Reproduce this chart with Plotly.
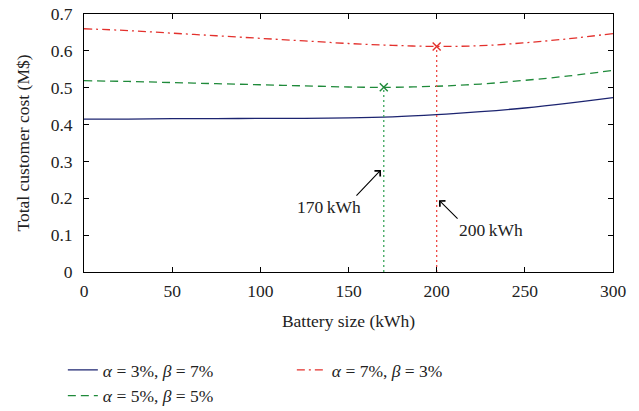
import plotly.graph_objects as go

x_blue = [0, 25, 50, 75, 100, 125, 150, 175, 200, 225, 250, 275, 300]
y_blue = [0.415, 0.415, 0.416, 0.416, 0.417, 0.417, 0.418, 0.421, 0.427, 0.435, 0.445, 0.458, 0.473]

x_green = [0, 25, 50, 75, 100, 125, 150, 170, 200, 225, 250, 275, 300]
y_green = [0.519, 0.517, 0.514, 0.511, 0.508, 0.505, 0.502, 0.501, 0.504, 0.510, 0.520, 0.532, 0.547]

x_red = [0, 25, 50, 75, 100, 125, 150, 175, 200, 225, 250, 275, 300]
y_red = [0.660, 0.655, 0.648, 0.641, 0.634, 0.627, 0.620, 0.615, 0.612, 0.614, 0.622, 0.633, 0.647]

opt_x = [170, 200]
opt_y = [0.501, 0.612]
opt_labels = ["170\u2009kWh", "200\u2009kWh"]

BLUE = "#1c2470"
GREEN = "#1f8a3a"
RED = "#e3312d"
GREEN_DOT = "#3aa55a"
RED_DOT = "#ee4a46"
FONT = "Liberation Serif"
FS = 17.5
TXT = "#222"

fig = go.Figure()
fig.add_trace(go.Scatter(x=x_blue, y=y_blue, mode="lines", line=dict(color=BLUE, width=1.3, shape="spline"),
                         name="<i>α</i> = 3%, <i>β</i> = 7%"))
fig.add_trace(go.Scatter(x=x_red, y=y_red, mode="lines", line=dict(color=RED, width=1.3, dash="8px,4px,2px,4px", shape="spline"),
                         name="<i>α</i> = 7%, <i>β</i> = 3%"))
fig.add_trace(go.Scatter(x=x_green, y=y_green, mode="lines", line=dict(color=GREEN, width=1.3, dash="8px,5px", shape="spline"),
                         name="<i>α</i> = 5%, <i>β</i> = 5%"))

# vertical dotted lines and optimum markers
for xv, yv, c, cd in [(opt_x[0], opt_y[0], GREEN, GREEN_DOT), (opt_x[1], opt_y[1], RED, RED_DOT)]:
    fig.add_trace(go.Scatter(x=[xv, xv], y=[0, yv], mode="lines", line=dict(color=cd, width=1.3, dash="2px,3px"),
                             showlegend=False, hoverinfo="skip"))
    fig.add_trace(go.Scatter(x=[xv], y=[yv], mode="markers",
                             marker=dict(symbol="x-thin-open", size=8, color=c, line=dict(color=c, width=1.4)),
                             showlegend=False))

# 170 kWh arrow + label
fig.add_annotation(x=168.4, y=0.277, ax=153.7, ay=0.203, xref="x", yref="y", axref="x", ayref="y",
                   text="", showarrow=True, arrowhead=4, arrowsize=1.4, arrowwidth=1.1, arrowcolor="black")
fig.add_annotation(x=158.5, y=0.176, xref="x", yref="y", text=opt_labels[0], showarrow=False,
                   xanchor="right", yanchor="middle", font=dict(family=FONT, size=FS, color=TXT))
# 200 kWh arrow + label
fig.add_annotation(x=201.3, y=0.195, ax=212.7, ay=0.141, xref="x", yref="y", axref="x", ayref="y",
                   text="", showarrow=True, arrowhead=4, arrowsize=1.4, arrowwidth=1.1, arrowcolor="black")
fig.add_annotation(x=211.8, y=0.114, xref="x", yref="y", text=opt_labels[1], showarrow=False,
                   xanchor="left", yanchor="middle", font=dict(family=FONT, size=FS, color=TXT))

axis_common = dict(showline=True, linecolor="black", linewidth=1, mirror="ticks", ticks="inside",
                   ticklen=5, tickcolor="black", showgrid=False, zeroline=False, automargin=False,
                   tickfont=dict(family=FONT, size=FS, color=TXT), ticklabeloverflow="allow",
                   showspikes=False)
fig.update_xaxes(range=[0, 300], dtick=50, ticklabelstandoff=3,
                 title=dict(text="Battery size (kWh)", font=dict(family=FONT, size=FS, color=TXT), standoff=14),
                 **axis_common)
fig.update_yaxes(range=[0, 0.7], ticklabelstandoff=7,
                 tickvals=[0, 0.1, 0.2, 0.3, 0.4, 0.5, 0.6, 0.7],
                 ticktext=["0", "0.1", "0.2", "0.3", "0.4", "0.5", "0.6", "0.7"],
                 title=dict(text="Total customer cost (M$)", font=dict(family=FONT, size=FS, color=TXT), standoff=16),
                 **axis_common)

fig.update_layout(
    width=639, height=411, plot_bgcolor="white", paper_bgcolor="white",
    margin=dict(l=84, r=26, t=14, b=139, autoexpand=False),
    font=dict(family=FONT, size=FS, color=TXT),
    hovermode=False,
    legend=dict(orientation="h", x=-0.04, xanchor="left", y=-0.31, yanchor="top",
                entrywidth=184, entrywidthmode="pixels", tracegroupgap=0,
                font=dict(family=FONT, size=FS, color=TXT), itemwidth=30),
)

fig.write_html("out.html", config={"displayModeBar": False, "staticPlot": True},
               post_script="document.body.style.margin='0';")
